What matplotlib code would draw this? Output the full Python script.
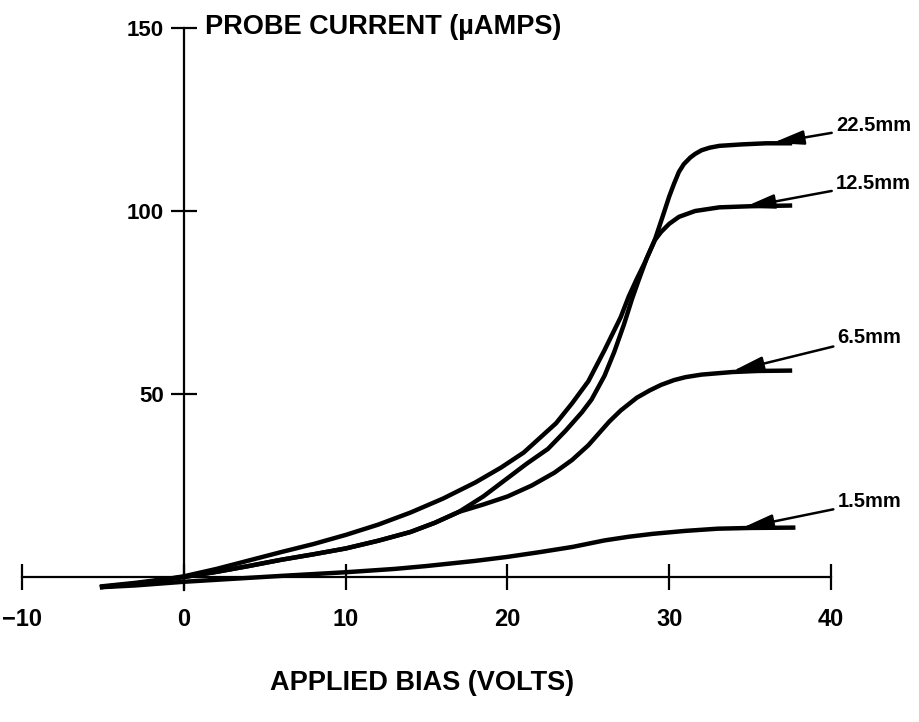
import matplotlib
matplotlib.use("Agg")
import matplotlib.pyplot as plt

plt.rcParams['font.family'] = ['Liberation Sans', 'DejaVu Sans']

# ---- data ----
bias_22 = [-5.2, -3, -1, 0, 2, 4, 6, 8, 10, 12, 14, 16, 18, 19.6, 21, 22.1, 23, 24, 25, 26,
           27, 27.5, 28, 28.5, 29.1, 29.6, 30, 30.3, 30.6, 30.9, 31.3, 31.6, 32, 32.5, 33.1,
           34.5, 36, 37.6]
cur_22 = [-2.6, -1.6, -0.5, 0.2, 2.2, 4.5, 6.8, 9, 11.5, 14.3, 17.6, 21.4, 25.8, 29.9, 34,
          38.4, 42, 47.5, 53.5, 62, 71, 76.7, 81.5, 86, 92, 98.6, 104, 107.5, 110.7, 112.8,
          114.6, 115.6, 116.6, 117.3, 117.8, 118.2, 118.5, 118.5]

bias_12 = [-5.2, -3, -1, 0, 2, 4, 6, 8, 10, 12, 14, 15.5, 17, 18.5, 20, 21.2, 22.5, 23.6,
           24.6, 25.2, 26, 26.6, 27.2, 27.7, 28.1, 28.6, 29.1, 29.5, 30, 30.6, 31.6, 33.1,
           35, 37.6]
cur_12 = [-2.8, -1.8, -0.6, 0, 1.4, 3, 4.7, 6.2, 7.8, 9.9, 12.3, 14.8, 17.8, 22, 27, 31, 35,
          40, 45, 48.5, 55, 61.5, 69, 76, 81, 87, 92, 94.3, 96.5, 98.4, 100, 101, 101.3, 101.5]

bias_6 = [-5.2, -3, -1, 0, 2, 4, 6, 8, 10, 12, 14, 15.5, 17, 18.5, 20, 21.5, 22.9, 24, 25,
          26.3, 27, 28, 28.8, 29.5, 30.3, 31, 32, 33.9, 35.5, 37.6]
cur_6 = [-2.8, -1.8, -0.6, 0, 1.4, 3, 4.7, 6.2, 7.8, 9.9, 12.3, 14.8, 17.8, 19.8, 22, 25,
         28.5, 32, 36, 42.5, 45.5, 49, 51, 52.5, 53.8, 54.6, 55.3, 56, 56.3, 56.4]

bias_1 = [-5.2, -3, 0, 3, 6, 10, 13, 15, 18, 20, 22, 24, 26, 27.5, 29, 31, 33, 35, 37.8]
cur_1 = [-2.8, -2.3, -1.3, -0.5, 0.3, 1.3, 2.2, 3, 4.4, 5.5, 6.8, 8.2, 10, 11, 11.8, 12.6,
         13.2, 13.4, 13.5]

curve_labels = ['22.5mm', '12.5mm', '6.5mm', '1.5mm']
arrow_tips = [(36.4, 118.6), (34.6, 101.0), (33.9, 56.2), (34.5, 13.4)]

x_ticks = [-10, 0, 10, 20, 30, 40]
x_tick_labels = ['\u221210', '0', '10', '20', '30', '40']
y_ticks = [50, 100, 150]
y_tick_labels = ['50', '100', '150']

# ---- figure ----
fig = plt.figure(figsize=(9.2, 7.22), dpi=100)
ax = fig.add_axes([0, 0, 1, 1])
ax.set_xlim(-184 / 16.175, (920 - 184) / 16.175)
ax.set_ylim(-(722 - 577) / 3.66, 577 / 3.66)

for s in ['top', 'right']:
    ax.spines[s].set_visible(False)
ax.spines['left'].set_position(('data', 0))
ax.spines['bottom'].set_position(('data', 0))
ax.spines['bottom'].set_bounds(-10, 40)
ax.spines['left'].set_bounds(-3.5, 150)
for s in ['left', 'bottom']:
    ax.spines[s].set_linewidth(1.6)

ax.set_xticks(x_ticks)
ax.set_xticklabels(x_tick_labels)
ax.set_yticks(y_ticks)
ax.set_yticklabels(y_tick_labels)
ax.tick_params(direction='inout', length=19, width=1.6)
ax.tick_params(axis='x', pad=13, labelsize=17)
ax.tick_params(axis='y', pad=5, labelsize=16)
for t in ax.get_xticklabels() + ax.get_yticklabels():
    t.set_fontweight('bold')

lw = 3.2
for bx, cy in [(bias_22, cur_22), (bias_12, cur_12), (bias_6, cur_6), (bias_1, cur_1)]:
    ax.plot(bx, cy, color='black', lw=lw, solid_capstyle='butt', solid_joinstyle='round')

label_xy = [(40.3, 123.3), (40.3, 107.6), (40.4, 65.4), (40.4, 20.5)]
for lab, tip, txy in zip(curve_labels, arrow_tips, label_xy):
    ax.annotate(lab, xy=tip, xytext=txy, ha='left', va='center', fontsize=14.5,
                fontweight='bold',
                arrowprops=dict(arrowstyle='-|>,head_length=1.3,head_width=0.3',
                                color='black', lw=1.8, shrinkA=1, shrinkB=0))

ax.text(1.3, 150.3, 'PROBE CURRENT (\u00b5AMPS)', ha='left', va='center',
        fontsize=19.5, fontweight='bold')
ax.text(14.7, -29.0, 'APPLIED BIAS (VOLTS)', ha='center', va='center',
        fontsize=19.5, fontweight='bold')

fig.savefig('out.png', dpi=100)
